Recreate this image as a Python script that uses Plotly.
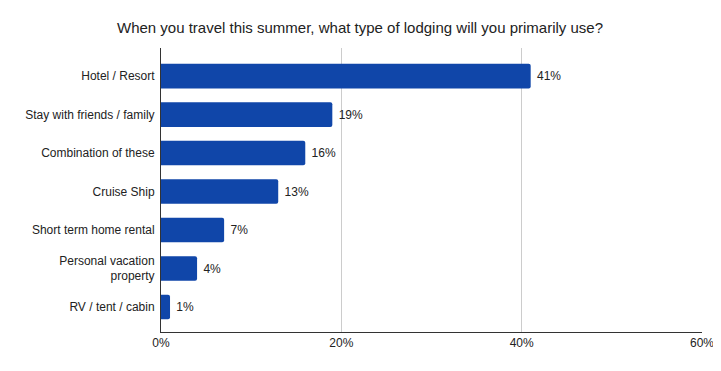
import plotly.graph_objects as go

categories = ["Hotel / Resort", "Stay with friends / family", "Combination of these",
              "Cruise Ship", "Short term home rental", "Personal vacation<br>property",
              "RV / tent / cabin"]
values = [41, 19, 16, 13, 7, 4, 1]
x_ticks = [0, 20, 40, 60]
x_tick_labels = ["0%", "20%", "40%", "60%"]
title = "When you travel this summer, what type of lodging will you primarily use?"

# page body has an 8px default margin; figure is sized to fill the rest of the window
W, H = 713, 363

fig = go.Figure(go.Bar(
    x=values, y=categories, orientation="h",
    marker=dict(color="#1046A9", line=dict(width=0)),
    width=0.64,
    text=[f" {v}%" for v in values], textposition="outside",
    textfont=dict(family="Liberation Sans, Arial", size=12, color="#222222"),
    cliponaxis=False,
))

fig.update_layout(
    width=W, height=H,
    margin=dict(l=153, r=19, t=40, b=39),
    paper_bgcolor="white", plot_bgcolor="white",
    title=dict(text=title, x=352 / W, xanchor="center", y=1 - 20 / H, yanchor="middle",
               font=dict(family="Liberation Sans, Arial", size=15, color="#222222")),
    font=dict(family="Liberation Sans, Arial", size=12, color="#222222"),
    barcornerradius=2,
    showlegend=False,
)
fig.update_xaxes(range=[0, 60], tickvals=x_ticks, ticktext=x_tick_labels,
                 showgrid=True, gridcolor="#cccccc", gridwidth=1,
                 showline=True, linecolor="#333333", linewidth=1,
                 zeroline=False, ticks="", fixedrange=True, automargin=False)
fig.update_yaxes(type="category", categoryorder="array", categoryarray=categories,
                 range=[6.65, -0.73], showline=True, linecolor="#333333", linewidth=1,
                 ticks="", showgrid=False, ticklabelstandoff=3, fixedrange=True,
                 automargin=False)

fig.write_html("out.html")
